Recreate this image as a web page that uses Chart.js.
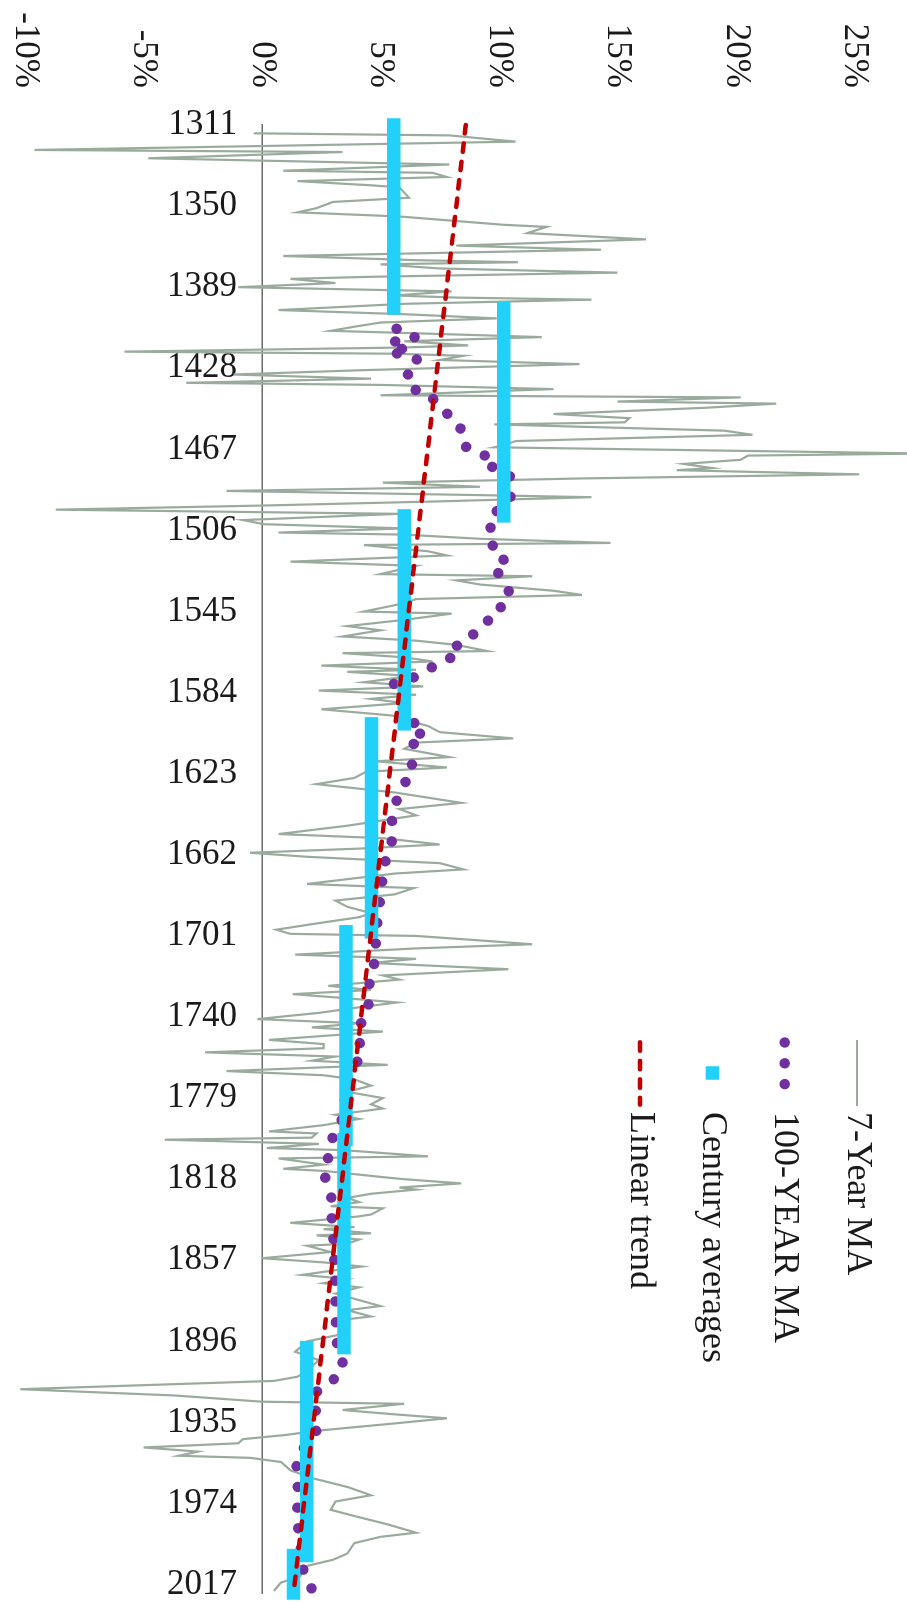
<!DOCTYPE html>
<html>
<head>
<meta charset="utf-8">
<script src="https://cdn.jsdelivr.net/npm/chart.js@4.4.1/dist/chart.umd.min.js"></script>
<style>
  html, body { margin: 0; padding: 0; background: #fff; overflow: hidden; width: 907px; height: 1603px; }
  /* the chart is laid out in landscape and turned a quarter turn clockwise */
  #frame { position: absolute; left: 0; top: 0; width: 1603px; height: 907px;
           transform-origin: 0 0; transform: translate(907px, 0) rotate(90deg); }
  canvas { display: block; }
</style>
</head>
<body>
<div id="frame"><canvas id="chart" width="1603" height="907"></canvas></div>
<script>
// ---- categories ----
const firstYear = 1311;
const lastYear = 2017;
const tickEvery = 39;
const tickLabels = ['1311','1350','1389','1428','1467','1506','1545','1584','1623','1662',
                    '1701','1740','1779','1818','1857','1896','1935','1974','2017'];

// ---- 7-year moving average (%) ----
const ma7Years = [
  1315,1316,1319,1323,1324,1327,1330,1333,1334,1336,1338,1340,1341,1346,1348,1351,1353,1355,1359,1360,
  1363,1366,1369,1371,1374,1376,1377,1378,1380,1382,1384,1385,1387,1389,1391,1393,1394,1395,1397,1400,
  1402,1404,1406,1408,1410,1411,1413,1415,1417,1418,1420,1421,1422,1424,1426,1429,1431,1433,1435,1436,
  1438,1441,1442,1444,1445,1447,1450,1452,1454,1455,1458,1460,1463,1465,1466,1469,1470,1472,1474,1476,
  1477,1479,1481,1483,1485,1487,1489,1490,1492,1494,1496,1498,1501,1503,1505,1507,1508,1510,1512,1513,
  1516,1518,1521,1523,1527,1528,1530,1532,1535,1537,1539,1541,1545,1546,1549,1552,1554,1557,1559,1561,
  1564,1565,1567,1569,1571,1573,1574,1576,1579,1581,1583,1585,1587,1589,1592,1595,1597,1600,1603,1606,
  1608,1611,1615,1617,1620,1622,1625,1628,1632,1637,1640,1643,1648,1652,1654,1657,1659,1661,1663,1666,
  1669,1671,1676,1678,1681,1684,1687,1690,1692,1695,1698,1700,1701,1703,1705,1707,1710,1712,1714,1717,
  1720,1722,1725,1727,1729,1731,1733,1735,1738,1741,1743,1745,1747,1751,1753,1755,1757,1759,1761,1763,
  1766,1768,1770,1773,1776,1779,1782,1784,1787,1789,1792,1795,1796,1798,1799,1801,1803,1804,1807,1808,
  1811,1813,1814,1817,1818,1820,1822,1823,1825,1827,1829,1831,1832,1835,1836,1839,1841,1842,1844,1845,
  1847,1849,1850,1853,1856,1858,1860,1864,1866,1868,1870,1873,1879,1881,1884,1886,1892,1896,1901,1905,
  1910,1913,1915,1919,1922,1925,1926,1929,1931,1933,1935,1939,1941,1943,1945,1947,1949,1951,1952,1954,
  1958,1962,1966,1970,1973,1977,1980,1984,1988,1990,1993,1998,2001,2004,2009,2012,2016
];
const ma7Values = [
  -0.35,7.9,10.7,-9.6,3.4,-4.8,7.9,0.9,7.2,7.8,1.5,4.6,5.8,6.2,3.0,2.3,1.5,5.8,10.2,12.0,
  11.2,16.2,8.2,14.3,0.9,6.5,10.8,5.0,7.5,15.0,4.6,1.2,3.1,-1.0,8.0,5.6,8.2,13.9,6.0,0.7,
  6.0,9.9,5.0,3.9,2.9,6.0,11.8,6.0,8.7,6.0,-5.8,5.6,8.5,7.5,13.4,4.0,-1.2,4.6,-3.2,5.0,
  12.3,5.0,20.2,15.0,21.7,18.7,12.3,15.5,15.3,9.8,19.5,20.7,10.7,10.2,9.8,28.0,20.5,20.2,17.8,19.0,
  17.5,25.2,13.4,5.1,9.2,-1.5,9.2,13.9,7.5,0.1,-8.7,5.8,-0.8,0.1,6.0,0.7,6.0,9.2,14.7,4.3,
  7.0,7.8,1.2,6.5,5.0,11.4,8.2,9.2,12.3,13.5,6.5,6.0,4.3,8.0,6.0,3.6,5.0,3.4,6.5,8.2,
  9.5,3.4,6.0,7.2,2.5,6.5,3.6,6.3,4.3,6.8,2.4,6.5,4.6,6.0,2.5,5.5,6.0,7.0,7.5,10.6,
  6.5,6.0,7.9,4.8,7.8,4.4,3.9,2.3,5.6,8.4,5.8,6.5,3.6,0.7,5.1,7.5,4.1,-0.5,2.0,7.5,
  8.5,5.6,1.9,6.4,5.6,3.1,3.6,4.6,4.1,2.3,0.6,1.2,6.5,9.0,11.4,6.5,1.4,6.5,4.6,10.4,
  5.1,5.8,2.8,4.6,1.3,3.6,5.7,4.3,2.4,-0.2,4.1,2.1,5.1,0.3,2.6,2.6,-2.4,3.1,2.1,5.3,
  -1.5,2.6,3.9,4.6,3.6,5.1,4.6,5.1,3.1,4.1,2.6,0.3,2.3,2.1,-4.1,2.4,0.2,3.4,7.0,0.7,
  2.6,0.9,2.6,5.1,6.0,8.4,5.8,6.5,4.6,3.6,4.1,2.9,5.1,4.6,4.0,1.2,3.9,2.6,4.6,2.3,
  4.1,3.6,1.9,2.9,0.0,2.6,4.2,1.7,3.6,2.6,4.1,3.1,5.0,3.6,4.6,3.1,3.6,1.9,1.4,2.4,
  1.9,1.5,0.5,-10.2,-3.7,0.0,6.0,3.4,5.5,7.8,6.0,2.3,1.0,-0.8,-1.0,-5.0,-2.7,-3.5,-0.5,0.8,
  1.2,2.2,3.6,4.6,3.1,2.9,3.9,5.3,6.5,5.0,3.9,3.6,3.0,1.9,1.6,0.8,0.5
];

// ---- 100-year moving average (%) ----
const ma100Years = [
  1409,1413,1415,1418,1420,1422,1424,1427,1432,1435,1440,1443,1448,1453,1458,1462,1466,1470,1473,1479,
  1486,1492,1496,1503,1507,1510,1514,1519,1520,1523,1527,1532,1537,1542,1545,1548,1554,1558,1562,1566,
  1569,1573,1577,1580,1585,1589,1597,1601,1605,1608,1617,1622,1628,1636,1642,1647,1655,1670,1678,1686,
  1703,1708,1713,1720,1727,1733,1741,1748,1756,1760,1765,1794,1798,1801,1807,1812,1818,1827,1835,1843,
  1850,1871,1881,1890,1898,1902,1910,1916,1921,1930,1938,1952,1960,1970,1980,2009,2016
];
const ma100Values = [
  5.68,6.46,5.6,6.17,5.37,6.1,6.59,6.59,6.05,6.37,6.54,7.27,7.56,8.24,8.41,8.68,8.61,9.41,9.22,10.44,
  10.56,10.44,9.95,9.51,9.83,9.9,9.7,9.9,10.2,9.76,10.0,10.24,10.5,10.24,9.7,9.7,8.98,8.85,8.12,8.29,
  7.51,7.02,6.34,5.51,6.05,5.68,6.59,6.17,6.9,6.41,6.29,6.41,5.98,5.68,5.61,5.44,5.49,5.07,5.07,4.95,
  4.78,4.83,4.78,4.54,4.54,4.54,4.15,4.27,4.02,4.15,3.7,3.3,2.98,2.93,2.83,2.59,2.68,2.93,2.93,2.99,
  3.03,3.1,3.1,3.13,3.17,3.38,3.42,2.86,2.2,2.27,2.35,1.46,1.46,1.54,1.46,1.78,2.15
];

// ---- century averages (%) ----
const centuryFrom = [1311,1399,1499,1599,1699,1799,1899,1999];
const centuryTo   = [1399,1499,1599,1699,1799,1899,1999,2017];
const centuryAverages = [5.56,10.2,6.0,4.62,3.54,3.46,1.89,1.33];

// ---- linear trend (%) ----
const trendYears = [1311, 2017];
const trendValues = [8.6, 1.33];

// ---- build the structures Chart.js needs ----
const years = [];
for (let y = firstYear; y <= lastYear; y++) years.push(y);

const toPoints = (xs, ys) => xs.map((x, k) => ({ x, y: ys[k] }));

const centuryPoints = [];
centuryAverages.forEach((avg, k) => {
  centuryPoints.push({ x: centuryFrom[k], y: avg }, { x: centuryTo[k], y: avg });
  if (k < centuryAverages.length - 1) centuryPoints.push({ x: centuryTo[k], y: null });
});

const FONT = 'Liberation Serif';
const INK = '#1a1a1a';

// legend drawn as a vertical list inside the plot
const sideLegend = {
  id: 'sideLegend',
  afterDraw(chart, args, opts) {
    const ctx = chart.ctx;
    ctx.save();
    chart.data.datasets.forEach((ds, i) => {
      const y = opts.top + i * opts.rowGap;
      ctx.save();
      ctx.strokeStyle = ds.borderColor;
      ctx.fillStyle = ds.borderColor;
      ctx.lineWidth = ds.borderWidth;
      ctx.beginPath();
      if (ds.symbol === 'line') {
        ctx.moveTo(opts.x0, y); ctx.lineTo(opts.x1, y); ctx.stroke();
      } else if (ds.symbol === 'dots') {
        ctx.setLineDash(ds.borderDash); ctx.lineCap = 'round';
        ctx.moveTo(opts.x0 + 2.5, y); ctx.lineTo(opts.x1 - 14, y); ctx.stroke();
      } else if (ds.symbol === 'square') {
        const s = ds.borderWidth;
        ctx.fillRect((opts.x0 + opts.x1) / 2 - s / 2, y - s / 2, s, s);
      } else {
        ctx.setLineDash(ds.borderDash); ctx.lineCap = 'round';
        ctx.moveTo(opts.x0 + 2.3, y); ctx.lineTo(opts.x1 - 1.3, y); ctx.stroke();
      }
      ctx.restore();
      ctx.font = opts.fontSize + 'px "' + FONT + '"';
      ctx.fillStyle = INK;
      ctx.textBaseline = 'middle';
      ctx.textAlign = 'left';
      ctx.fillText(ds.label, opts.textX, y);
    });
    ctx.restore();
  }
};

const whiteBg = {
  id: 'whiteBg',
  beforeDraw(chart) {
    const c = chart.ctx;
    c.save(); c.fillStyle = '#fff'; c.fillRect(0, 0, chart.width, chart.height); c.restore();
  }
};

new Chart(document.getElementById('chart'), {
  type: 'line',
  data: {
    labels: years,
    datasets: [
      { label: '7-Year MA', data: toPoints(ma7Years, ma7Values), symbol: 'line',
        borderColor: '#9aab9e', borderWidth: 2.2, pointRadius: 0, tension: 0, clip: false, order: 4 },
      { label: '100-YEAR MA', data: toPoints(ma100Years, ma100Values), symbol: 'dots',
        borderColor: '#7030a0', borderWidth: 10.5, borderDash: [0.01, 20.8], borderCapStyle: 'round',
        borderJoinStyle: 'round', pointRadius: 0, tension: 0, clip: false, order: 3 },
      { label: 'Century averages', data: centuryPoints, symbol: 'square',
        borderColor: '#22d1fa', borderWidth: 13.5, borderCapStyle: 'square',
        pointRadius: 0, tension: 0, clip: false, spanGaps: false, order: 2 },
      { label: 'Linear trend', data: toPoints(trendYears, trendValues), symbol: 'dash',
        borderColor: '#c00000', borderWidth: 4.5, borderDash: [8.5, 10], borderCapStyle: 'round',
        pointRadius: 0, tension: 0, clip: false, order: 1 }
    ]
  },
  options: {
    responsive: false,
    animation: false,
    devicePixelRatio: 1,
    layout: { padding: { top: 52.5, bottom: 25, left: 0, right: 10 } },
    scales: {
      x: {
        type: 'category',
        position: { y: 0 },
        offset: false,
        grid: { display: false, drawTicks: false },
        border: { display: true, color: '#6b6b6b', width: 1.5 },
        ticks: {
          autoSkip: false, minRotation: 90, maxRotation: 90, padding: 25,
          font: { family: FONT, size: 35 }, color: INK,
          callback: (v, i) => (i % tickEvery === 0 ? tickLabels[i / tickEvery] : '')
        },
        afterFit: s => { s.height = 0; s.paddingLeft = 0; s.paddingRight = 0; s.paddingTop = 0; s.paddingBottom = 0; }
      },
      y: {
        position: 'left',
        min: -10, max: 25,
        grid: { display: false, drawTicks: false },
        border: { display: false },
        ticks: {
          stepSize: 5, padding: 37,
          font: { family: FONT, size: 35 }, color: INK,
          callback: v => v + '%'
        },
        afterFit: s => { s.width = 125; s.paddingTop = 0; s.paddingBottom = 0; }
      }
    },
    plugins: {
      legend: { display: false },
      tooltip: { enabled: false },
      sideLegend: { x0: 1040, x1: 1106, textX: 1112, top: 50, rowGap: 72.3, fontSize: 36 }
    }
  },
  plugins: [whiteBg, sideLegend]
});
</script>
</body>
</html>
